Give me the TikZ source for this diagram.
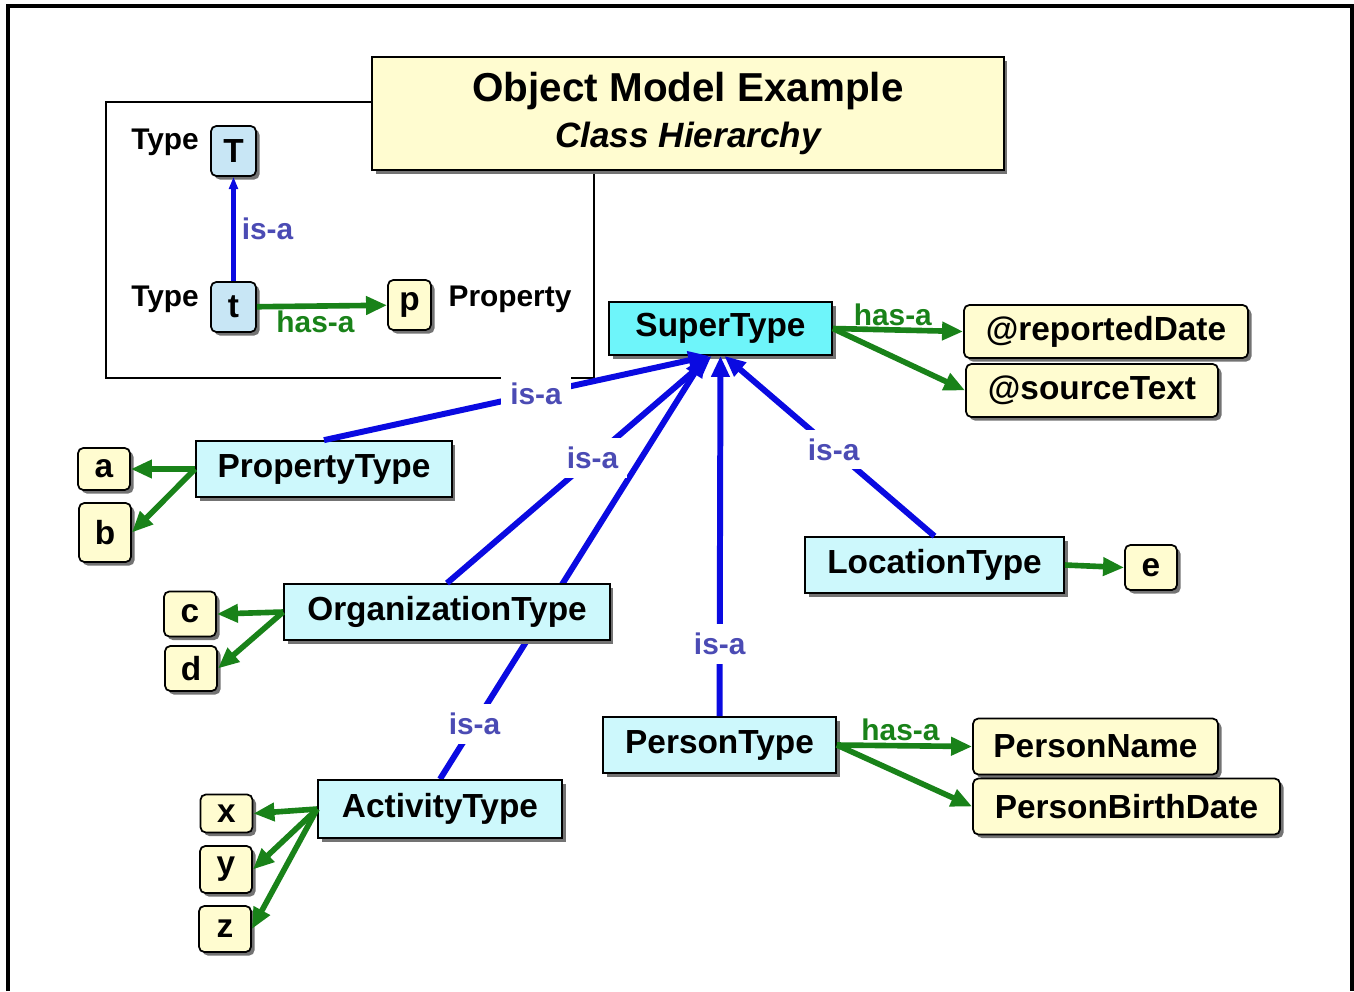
\documentclass[tikz,border=0pt]{standalone}
\usepackage{fontspec}
\setmainfont{Liberation Sans}
\usetikzlibrary{arrows.meta,shadows,backgrounds}
\definecolor{isablue}{RGB}{10,10,225}
\definecolor{isatext}{RGB}{75,75,180}
\definecolor{hasgreen}{RGB}{25,130,25}
\definecolor{supercyan}{RGB}{110,245,250}
\definecolor{lightcyan}{RGB}{205,248,252}
\definecolor{typeblue}{RGB}{200,230,245}
\definecolor{propyellow}{RGB}{255,252,208}

\begin{document}
\begin{tikzpicture}[x=0.02cm,y=-0.02cm,>={Triangle[length=12pt,width=10pt]},
    boxshadow/.style={drop shadow={shadow xshift=2pt,shadow yshift=-2pt,opacity=1,fill=black!55}},
    cls/.style={draw,line width=1pt,fill=lightcyan,boxshadow,font=\bfseries\fontsize{19}{22}\selectfont,minimum height=1.12cm,inner sep=0pt},
    attr/.style={draw,line width=1pt,fill=propyellow,rounded corners=3pt,boxshadow,font=\bfseries\fontsize{19}{22}\selectfont,minimum height=1.12cm,inner sep=0pt},
    letterbox/.style={attr,minimum width=1.04cm,minimum height=0.9cm},
    tbox/.style={letterbox,fill=typeblue,minimum width=0.9cm,minimum height=1cm},
    txt/.style={font=\bfseries\fontsize{17}{20}\selectfont},
    isa/.style={->,draw=isablue,line width=3.4pt},
    hasa/.style={->,draw=hasgreen,line width=3.2pt},
    isalbl/.style={fill=white,text=isatext,font=\bfseries\fontsize{17}{20}\selectfont,inner sep=5pt},
    hasalbl/.style={text=hasgreen,font=\bfseries\fontsize{17}{20}\selectfont,inner sep=1pt}]
    \useasboundingbox (0,0) rectangle (1354,991);
    % frame and legend box
    \draw[line width=1.8pt] (8,991) -- (8,6) -- (1352,6) -- (1352,991);
    \draw[line width=1.4pt] (106,102) rectangle (594,378);
    \node[draw,line width=1pt,fill=propyellow,boxshadow,minimum width=12.64cm,minimum height=2.26cm,align=center,font=\bfseries\fontsize{23}{26}\selectfont] (title) at (688,113.5)
        {Object Model Example\\{\itshape\fontsize{20}{24}\selectfont Class Hierarchy}};
    % legend
    \node[tbox] (T) at (233.5,151) {T};
    \node[tbox] (t) at (233.5,307) {t};
    \node[letterbox,minimum width=0.86cm,minimum height=1cm] (p) at (409.5,305) {p};
    \node[txt] (typeT) at (165,142) {Type};
    \node[txt] (typet) at (165,299) {Type};
    \node[txt] (property) at (510,299) {Property};
    \path (t.north) edge[isa,>={Triangle[length=7pt,width=5pt]}] node[right,isalbl,fill=none,inner sep=3pt] {is-a} (T.south);
    \path (t) edge[hasa] node[below,hasalbl,pos=0.45] {has-a} (p);
    % classes
    \node[cls,fill=supercyan,minimum width=4.46cm,minimum height=1.06cm] (super) at (720.5,328.5) {SuperType};
    \node[cls,minimum width=5.12cm] (prop) at (324,469) {PropertyType};
    \node[cls,minimum width=6.52cm] (org) at (447,612) {OrganizationType};
    \node[cls,minimum width=4.88cm,minimum height=1.16cm] (act) at (440,809) {ActivityType};
    \node[cls,minimum width=4.66cm] (person) at (719.5,745) {PersonType};
    \node[cls,minimum width=5.18cm] (loc) at (934.5,565) {LocationType};
    % properties
    \node[attr,minimum width=5.68cm,minimum height=1.06cm] (rd) at (1106,331.5) {@reportedDate};
    \node[attr,minimum width=5.04cm,minimum height=1.06cm] (st) at (1092,390.5) {@sourceText};
    \node[attr,minimum width=4.9cm] (pname) at (1095.5,746.5) {PersonName};
    \node[attr,minimum width=6.14cm] (pbd) at (1126.5,806.5) {PersonBirthDate};
    \node[letterbox,minimum height=0.84cm] (a) at (104,469) {a};
    \node[letterbox,minimum height=1.18cm] (b) at (105,532.5) {b};
    \node[letterbox] (c) at (190,614) {c};
    \node[letterbox] (d) at (191,668.5) {d};
    \node[letterbox,minimum height=0.76cm] (x) at (226.5,813.5) {x};
    \node[letterbox,minimum height=0.94cm] (y) at (226,869.5) {y};
    \node[letterbox,minimum height=0.92cm] (z) at (225,929) {z};
    \node[letterbox,minimum height=0.9cm] (e) at (1151,567.5) {e};
    % is-a links
    \begin{scope}[on background layer]
        \path (act.north) edge[isa] node[isalbl,pos=0.13] {is-a} (super.241);
    \end{scope}
    \path (prop.north) edge[isa] node[isalbl,pos=0.55] {is-a} (super.248);
    \path (org.north) edge[isa] node[isalbl,pos=0.55] {is-a} (super.252);
    \path (person.north) edge[isa] node[isalbl,pos=0.2] {is-a} (super.south);
    \path (loc.north) edge[isa] node[isalbl,pos=0.48] {is-a} (super.278);
    % has-a links
    \path (super.east) edge[hasa] node[above,hasalbl,pos=0.46] {has-a} (rd.west);
    \path (super.east) edge[hasa] (st.west);
    \path (person.east) edge[hasa] node[above,hasalbl,pos=0.47] {has-a} (pname.west);
    \path (person.east) edge[hasa] (pbd.west);
    \path (prop.west) edge[hasa] (a.east);
    \path (prop.west) edge[hasa] (b.east);
    \path (org.west) edge[hasa] (c.east);
    \path (org.west) edge[hasa] (d.east);
    \path (act.west) edge[hasa] (x.east);
    \path (act.west) edge[hasa] (y.east);
    \path (act.west) edge[hasa] (z.east);
    \path (loc.east) edge[hasa] (e.west);
\end{tikzpicture}
\end{document}
